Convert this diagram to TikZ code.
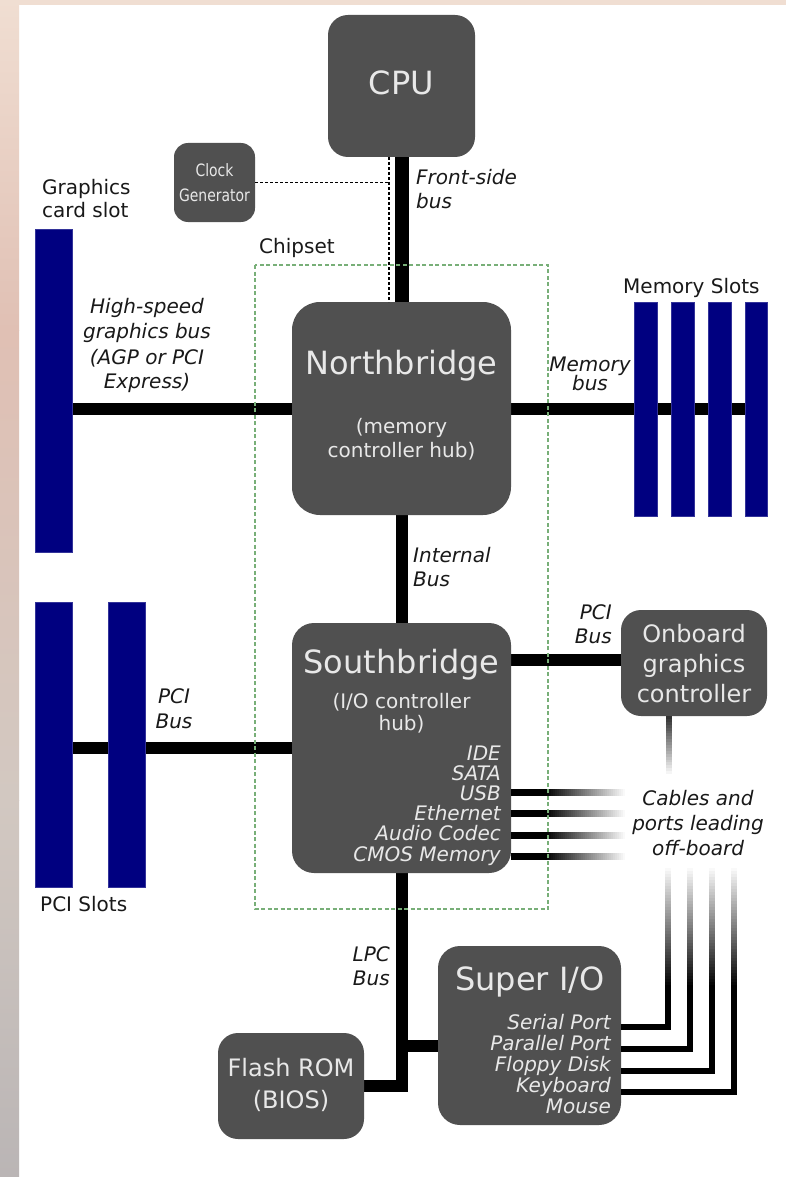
\documentclass[tikz,border=0pt]{standalone}
\usepackage{fontspec}
\setmainfont{DejaVu Sans}
\usetikzlibrary{calc}
\definecolor{boxgray}{RGB}{80,80,80}
\definecolor{boxtext}{RGB}{232,232,232}
\definecolor{navyslot}{RGB}{0,0,128}
\definecolor{chipgreen}{RGB}{120,175,120}
\definecolor{labeltxt}{RGB}{25,25,25}
\definecolor{bgA}{RGB}{240,222,210}
\definecolor{bgB}{RGB}{224,192,180}
\definecolor{bgC}{RGB}{210,200,193}
\definecolor{bgD}{RGB}{186,181,181}
\pgfdeclarelayer{back}
\pgfdeclarelayer{wires}
\pgfsetlayers{back,wires,main}
\begin{document}
\begin{tikzpicture}[x=1pt,y=-1pt,
  boxs/.style={fill=boxgray, rounded corners=#1, inner sep=0pt, outer sep=0pt},
  boxs/.default=20pt,
  slotbar/.style={fill=navyslot, draw=navyslot!80!white, line width=0.6pt, inner sep=0pt, outer sep=0pt},
  busline/.style={line width=12pt, black},
  fsbline/.style={line width=14pt, black},
  cableline/.style={line width=6.5pt, black, line join=miter},
  bigtxt/.style={text=boxtext, font=\fontsize{32}{38}\selectfont, anchor=base, inner sep=0pt},
  midtxt/.style={text=boxtext, font=\fontsize{24}{30}\selectfont, anchor=base, inner sep=0pt},
  subtxt/.style={text=boxtext, font=\fontsize{20}{24}\selectfont, anchor=base, inner sep=0pt},
  lsttxt/.style={text=boxtext, font=\fontsize{20}{21}\selectfont\itshape, anchor=base east, inner sep=0pt},
  ilbl/.style={text=labeltxt, font=\fontsize{20}{25}\selectfont\itshape, anchor=base, inner sep=0pt},
  plbl/.style={text=labeltxt, font=\fontsize{20}{24}\selectfont, anchor=base west, inner sep=0pt},
  clktxt/.style={text=boxtext, font=\fontsize{17}{24}\selectfont, anchor=base, inner sep=0pt},
]
\useasboundingbox (0,0) rectangle (786,1177);
\begin{pgfonlayer}{back}
  \fill[white] (0,0) rectangle (786,1177);
  \shade[top color=bgA, bottom color=bgB] (0,0) rectangle (19,330);
  \shade[top color=bgB, bottom color=bgC] (0,330) rectangle (19,800);
  \shade[top color=bgC, bottom color=bgD] (0,800) rectangle (19,1177);
  \fill[bgA] (0,0) rectangle (786,5);
\end{pgfonlayer}

% boxes
\node[boxs=20pt, minimum width=147pt, minimum height=142pt] (cpu) at (401.5,86) {};
\node[boxs=14pt, minimum width=81pt, minimum height=79pt] (clk) at (214.5,182.5) {};
\node[boxs=28pt, minimum width=219pt, minimum height=213pt] (nb) at (401.5,408.5) {};
\node[boxs=22pt, minimum width=219pt, minimum height=250pt] (sb) at (401.5,748) {};
\node[boxs=20pt, minimum width=146pt, minimum height=106pt] (ogc) at (694,663) {};
\node[boxs=20pt, minimum width=146pt, minimum height=106pt] (flash) at (291,1086) {};
\node[boxs=22pt, minimum width=183pt, minimum height=179pt] (sio) at (529.5,1035.5) {};

% slots
\node[slotbar, minimum width=37pt, minimum height=323pt] (gslot) at (53.5,390.5) {};
\node[slotbar, minimum width=37pt, minimum height=285pt] (pci1) at (53.5,744.5) {};
\node[slotbar, minimum width=37pt, minimum height=285pt] (pci2) at (126.5,744.5) {};
\foreach \x [count=\i] in {646,683,720,756.5}
  \node[slotbar, minimum width=22.5pt, minimum height=214pt] (ms\i) at (\x,409) {};

% buses
\coordinate (pcir) at (0,660);
\coordinate (lpcj) at (401.5,1046);
\begin{pgfonlayer}{wires}
  \draw[fsbline] (cpu.south) -- (nb.north);
  \draw[busline] (gslot.center |- nb.west) -- (nb.west);
  \draw[busline] (nb.east) -- (ms4.center |- nb.east);
  \draw[busline] (nb.south) -- (sb.north);
  \draw[busline] (pci1.center |- sb.west) -- (sb.west);
  \draw[busline] (sb.east |- pcir) -- (ogc.west |- pcir);
  \draw[busline, line join=miter] (sb.south) |- (flash.east);
  \draw[busline] (lpcj) -- (lpcj -| sio.west);
\end{pgfonlayer}

% clock lines
\coordinate (clkx) at (389,0);
\draw[black, line width=1.1pt, dash pattern=on 3pt off 2pt] (cpu.south -| clkx) -- (nb.north -| clkx);
\draw[black, line width=1.1pt, dash pattern=on 3pt off 2pt] (clk.east) -- (clk.east -| clkx);

% southbridge cables (fading to the right)
\foreach \y in {792,813,835,856}{
  \fill[black] (511,\y-3.5) rectangle (546,\y+3.5);
  \foreach \k in {0,...,39}{
    \pgfmathsetmacro{\p}{100-2.5*\k}
    \fill[black!\p] ({545+2*\k},\y-3.5) rectangle ({545+2*\k+2.4},\y+3.5);
  }
}
% onboard graphics cable (fading downwards)
\foreach \k in {0,...,19}{
  \pgfmathsetmacro{\p}{80-4*\k}
  \fill[black!\p] (665.5,{716+2.9*\k}) rectangle (671.5,{716+2.9*\k+3.3});
}

% super I/O cables
\foreach \x/\y [count=\i] in {668/1027,690/1049,712/1071,734/1092}{
  \coordinate (sc\i) at (\x,\y);
  \coordinate (sct\i) at (\x,986);
  \foreach \k in {0,...,39}{
    \pgfmathsetmacro{\p}{2.5*(\k+1)}
    \fill[black!\p] (\x-3.25,{868+3*\k}) rectangle (\x+3.25,{868+3*\k+3.4});
  }
  \draw[cableline] (sc\i -| sio.east) -- (sc\i) -- (sct\i);
}

% chipset frame
\draw[chipgreen, line width=1.5pt, dash pattern=on 4pt off 2.5pt] (255,265) rectangle (548,909);

% texts in boxes
\node[bigtxt] (tcpu) at (401.5,95) {CPU};
\node[clktxt] (tclk1) at (214.5,177) {\scalebox{0.82}[1]{Clock}};
\node[clktxt] (tclk2) at (214.5,201) {\scalebox{0.82}[1]{Generator}};
\node[bigtxt] (tnb) at (401.5,374) {Northbridge};
\node[subtxt] (tnb1) at (401.5,433) {(memory};
\node[subtxt] (tnb2) at (401.5,457) {controller hub)};
\node[bigtxt] (tsb) at (401.5,673) {Southbridge};
\node[subtxt] (tsb1) at (401.5,708) {(I/O controller};
\node[subtxt] (tsb2) at (401.5,730) {hub)};
\foreach \t [count=\i] in {IDE,SATA,USB,Ethernet,Audio Codec,CMOS Memory}
  \node[lsttxt] (sbl\i) at (501,{760+20.2*(\i-1)}) {\t};
\node[midtxt] (togc1) at (694,642) {Onboard};
\node[midtxt] (togc2) at (694,672) {graphics};
\node[midtxt] (togc3) at (694,702) {controller};
\node[midtxt] (tfl1) at (291,1076) {Flash ROM};
\node[midtxt] (tfl2) at (291,1108) {(BIOS)};
\node[bigtxt] (tsio) at (530,990) {Super I/O};
\foreach \t [count=\i] in {Serial Port,Parallel Port,Floppy Disk,Keyboard,Mouse}
  \node[lsttxt] (siol\i) at (611,{1029+21*(\i-1)}) {\t};

% labels
\node[ilbl, anchor=base west] (lfsb1) at (416,185) {Front-side};
\node[ilbl, anchor=base west] (lfsb2) at (416,208) {bus};
\node[plbl] (lgcs1) at (42,195) {Graphics};
\node[plbl] (lgcs2) at (42,218) {card slot};
\node[plbl] (lchip) at (259,253) {Chipset};
\node[ilbl] (lhs1) at (147,313) {High-speed};
\node[ilbl] (lhs2) at (147,338) {graphics bus};
\node[ilbl] (lhs3) at (147,364) {(AGP or PCI};
\node[ilbl] (lhs4) at (147,388) {Express)};
\node[plbl] (lmems) at (623,293) {Memory Slots};
\node[ilbl] (lmb1) at (590,371) {Memory};
\node[ilbl] (lmb2) at (590,390) {bus};
\node[ilbl, anchor=base west] (lib1) at (413,562) {Internal};
\node[ilbl, anchor=base west] (lib2) at (413,586) {Bus};
\node[ilbl] (lpl1) at (174,703) {PCI};
\node[ilbl] (lpl2) at (174,728) {Bus};
\node[ilbl, anchor=base east] (lpr1) at (612,619) {PCI};
\node[ilbl, anchor=base east] (lpr2) at (612,643) {Bus};
\node[ilbl] (lcab1) at (698,805) {Cables and};
\node[ilbl] (lcab2) at (698,830) {ports leading};
\node[ilbl] (lcab3) at (698,855) {off-board};
\node[plbl] (lpcis) at (40,911) {PCI Slots};
\node[ilbl, anchor=base east] (llpc1) at (390,961) {LPC};
\node[ilbl, anchor=base east] (llpc2) at (390,985) {Bus};
\end{tikzpicture}
\end{document}
